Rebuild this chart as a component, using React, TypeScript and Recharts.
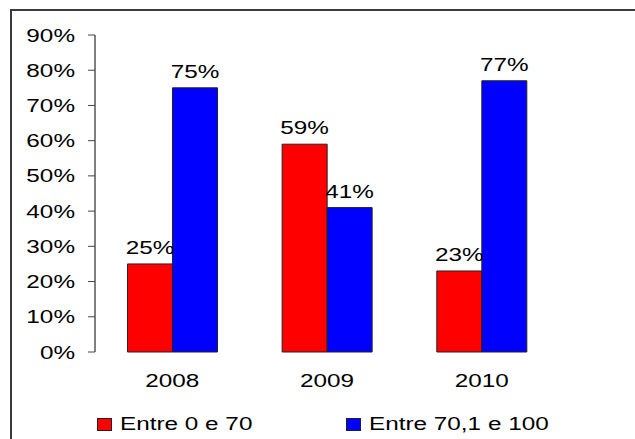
import React from "react";
import { BarChart, Bar, XAxis, YAxis, Legend, LabelList } from "recharts";

const years = ["2008", "2009", "2010"];
const entre0e70 = [25, 59, 23];
const entre70e100 = [75, 41, 77];
const yTicks = [0, 10, 20, 30, 40, 50, 60, 70, 80, 90];
const edgeTicks = [0, 1, 2, 3];
const seriesNames = ["Entre 0 e 70", "Entre 70,1 e 100"];
const COLORS = ["#ff0000", "#0000ff"];

const data = years.map((year, i) => ({
  year,
  low: entre0e70[i],
  high: entre70e100[i],
}));

const FONT = "'Liberation Sans', Arial, sans-serif";
// the original text is stretched sideways
const STRETCH = 1.35;

const WideText = ({ x, y, anchor, children }: any) => (
  <g transform={`translate(${x},${y}) scale(${STRETCH},1)`}>
    <text x={0} y={0} textAnchor={anchor} fontFamily={FONT} fontSize={18} fill="#000">
      {children}
    </text>
  </g>
);

const YTick = (props: any) => {
  const { x, y, payload } = props;
  return <WideText x={x} y={y + 6.5} anchor="end">{`${payload.value}%`}</WideText>;
};

const XTick = (props: any) => {
  const { x, y, payload } = props;
  return <WideText x={x} y={y} anchor="middle">{payload.value}</WideText>;
};

const EmptyTick = () => <g />;

const BarLabel = (props: any) => {
  const { x, y, width, value } = props;
  return (
    <WideText x={x + width / 2} y={y - 10} anchor="middle">
      {`${Math.round(value)}%`}
    </WideText>
  );
};

const legendLeft = [97, 346];

const renderLegend = () => (
  <div style={{ position: "relative", width: 635, height: 24 }}>
    {seriesNames.map((name, i) => (
      <div
        key={name}
        style={{ position: "absolute", left: legendLeft[i], top: 0, height: 24, whiteSpace: "nowrap" }}
      >
        <span
          style={{
            position: "absolute",
            left: 0,
            top: 6,
            width: 13,
            height: 11,
            background: COLORS[i],
            border: "1px solid #222",
          }}
        />
        <span
          style={{
            position: "absolute",
            left: 23,
            top: 1,
            display: "inline-block",
            fontFamily: FONT,
            fontSize: 18,
            lineHeight: "22px",
            color: "#000",
            transform: `scaleX(${STRETCH})`,
            transformOrigin: "left center",
          }}
        >
          {name}
        </span>
      </div>
    ))}
  </div>
);

export default function App() {
  return (
    <div style={{ position: "absolute", left: 0, top: 0, width: 635, height: 439, background: "#fff", overflow: "hidden" }}>
      <div
        style={{
          position: "absolute",
          left: 10,
          top: 9,
          width: 640,
          height: 450,
          borderTop: "2px solid #3a3a3a",
          borderLeft: "2px solid #3a3a3a",
          boxSizing: "border-box",
        }}
      />
      <div style={{ position: "absolute", left: 0, top: 0 }}>
        <BarChart
          width={635}
          height={439}
          data={data}
          margin={{ top: 35, right: 76, bottom: 33, left: 0 }}
          barCategoryGap="21%"
          barGap={0}
        >
          <XAxis
            xAxisId="edges"
            type="number"
            domain={[0, 3]}
            ticks={edgeTicks}
            height={0}
            tick={EmptyTick}
            tickSize={6}
            axisLine={{ stroke: "#000" }}
            tickLine={{ stroke: "#444" }}
          />
          <XAxis
            dataKey="year"
            height={30}
            axisLine={false}
            tickLine={false}
            tickSize={0}
            tickMargin={35}
            tick={XTick}
            interval={0}
          />
          <YAxis
            width={95}
            domain={[0, 90]}
            ticks={yTicks}
            interval={0}
            tickSize={7}
            tickMargin={13}
            tick={YTick}
            axisLine={{ stroke: "#000" }}
            tickLine={{ stroke: "#444" }}
          />
          <Legend content={renderLegend} wrapperStyle={{ top: 412, left: 0, bottom: "auto", width: 635, height: 24 }} />
          <Bar dataKey="low" name={seriesNames[0]} fill={COLORS[0]} stroke="#222" strokeWidth={1} isAnimationActive={false}>
            <LabelList dataKey="low" content={BarLabel} />
          </Bar>
          <Bar dataKey="high" name={seriesNames[1]} fill={COLORS[1]} stroke="#222" strokeWidth={1} isAnimationActive={false}>
            <LabelList dataKey="high" content={BarLabel} />
          </Bar>
        </BarChart>
      </div>
    </div>
  );
}
